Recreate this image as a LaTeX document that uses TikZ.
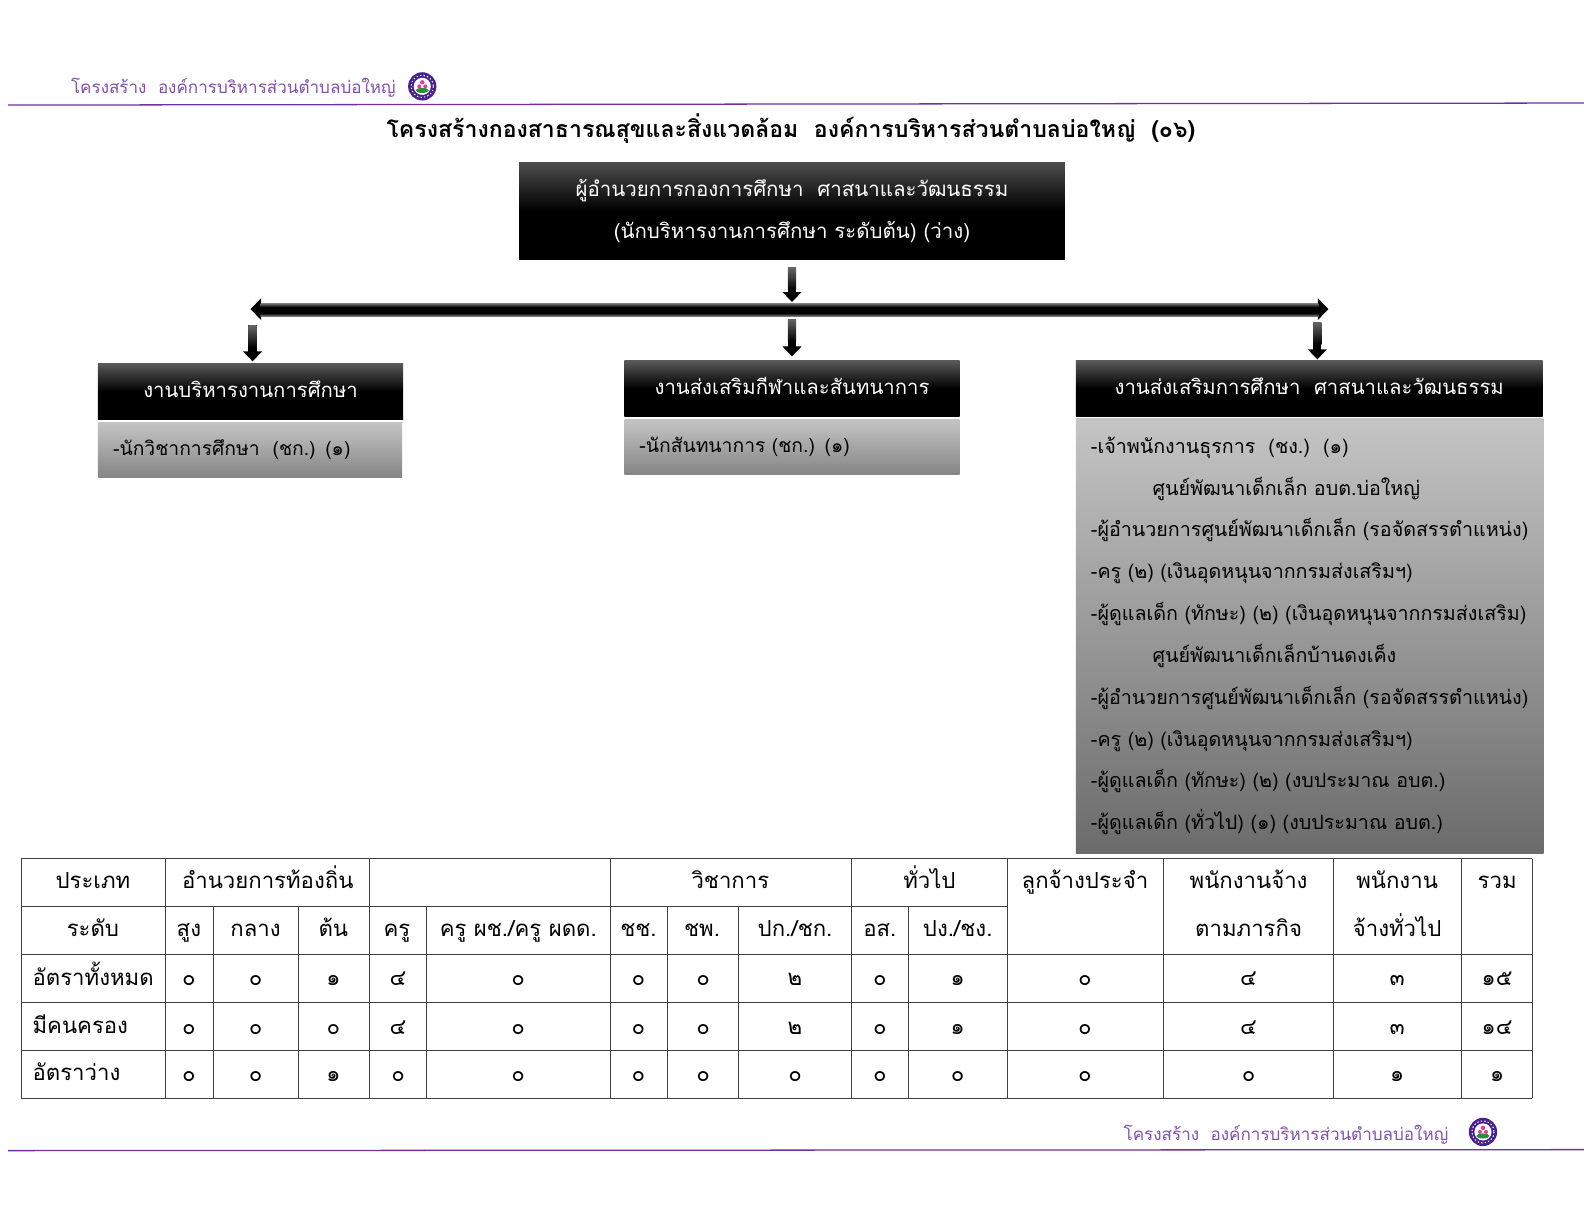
\documentclass[tikz,border=0pt]{standalone}
\usepackage{xcolor}
\usepackage{fontspec}
\usepackage{tikz}
\usetikzlibrary{arrows.meta}
\setmainfont[Script=Thai]{Loma}
\definecolor{ruleColor}{HTML}{7030A0}
\definecolor{headerColor}{HTML}{8050B0}
\definecolor{gridColor}{HTML}{404040}
\definecolor{sealColor}{HTML}{4A2090}
\definecolor{petalColor}{HTML}{E0409A}
\definecolor{leafColor}{HTML}{2E8B3A}

\begin{document}
\begin{tikzpicture}[x=0.025cm,y=-0.025cm,
bossbox/.style={shape=rectangle,top color=black!70,bottom color=black,middle color=black,text=white,
    font=\fontsize{14.4}{29}\selectfont,align=center,minimum width=13.5cm,minimum height=2.4cm,inner sep=0},
headbox/.style={shape=rectangle,top color=black!65,bottom color=black,middle color=black,text=white,
    font=\fontsize{14.3}{18}\selectfont,minimum height=1.375cm,text height=8.6pt,text depth=0pt,inner sep=0},
bodybox/.style={shape=rectangle,top color=black!23,bottom color=black!48,
    font=\fontsize{13.6}{20}\selectfont,align=left,inner ysep=0,inner xsep=0.375cm},
cell/.style={anchor=base,inner sep=0,font=\fontsize{15.6}{18}\selectfont},
headertext/.style={anchor=base,inner sep=0,text=headerColor,font=\fontsize{12}{15}\selectfont},
gridline/.style={draw=gridColor,line width=0.7pt},
ruleline/.style={draw=ruleColor,line width=0.9pt},
barline/.style={draw=black,line width=9.2pt,{Triangle[width=15pt,length=7.5pt]}-{Triangle[width=15pt,length=7.5pt]}},
dropline/.style={draw=black,line width=5.8pt,-{Triangle[width=13pt,length=7pt]}},
sealmark/.pic={
    \fill[sealColor] (0,0) circle (14);
    \draw[white,line width=0.7pt,dash pattern=on 1pt off 1.5pt] (0,0) circle (11);
    \fill[white] (0,0) circle (8.5);
    \fill[leafColor] (0,4) ellipse (6.5 and 2.5);
    \fill[petalColor] (0,-4) circle (2.2) (-3,0) circle (2) (3,0) circle (2);
}
]
\useasboundingbox (0,0) rectangle (1568,1211.6);
% running head and foot
\coordinate (topRuleL) at (8,104);
\coordinate (topRuleR) at (1568,102);
\coordinate (footRuleL) at (8,1139);
\coordinate (footRuleR) at (1568,1138);
\draw[ruleline] (topRuleL) -- (topRuleR);
\draw[ruleline] (footRuleL) -- (footRuleR);
\node[headertext] (topText) at (231,93) {โครงสร้าง~~องค์การบริหารส่วนตำบลบ่อใหญ่};
\node[headertext] (footText) at (1273,1129) {โครงสร้าง~~องค์การบริหารส่วนตำบลบ่อใหญ่};
\pic at (418,85.5) {sealmark};
\pic at (1468,1120.5) {sealmark};
\node[anchor=base,inner sep=0,font=\fontsize{16.25}{20}\selectfont\bfseries] (title) at (783,136)
    {โครงสร้างกองสาธารณสุขและสิ่งแวดล้อม~~องค์การบริหารส่วนตำบลบ่อใหญ่~~(๐๖)};
% chart
\node[bossbox] (boss) at (784,209) {ผู้อำนวยการกองการศึกษา~~ศาสนาและวัฒนธรรม\\(นักบริหารงานการศึกษา ระดับต้น) (ว่าง)};
\node[headbox,minimum width=7.55cm] (headL) at (248,387.5) {งานบริหารงานการศึกษา};
\node[headbox,minimum width=8.3cm] (headM) at (784,384.5) {งานส่งเสริมกีฬาและสันทนาการ};
\node[headbox,minimum width=11.55cm] (headR) at (1296,384.5) {งานส่งเสริมการศึกษา~~ศาสนาและวัฒนธรรม};
\node[bodybox,text width=6.775cm,minimum height=1.375cm] (bodyL) at (247.5,445.5) {-นักวิชาการศึกษา~~(ชก.) (๑)};
\node[bodybox,text width=7.55cm,minimum height=1.375cm] (bodyM) at (784,442.5) {-นักสันทนาการ (ชก.) (๑)};
\node[bodybox,bottom color=black!58,font=\fontsize{13.85}{29.45}\selectfont,text width=10.825cm,minimum height=10.775cm] (bodyR) at (1296.5,629.5) {%
-เจ้าพนักงานธุรการ~~(ชง.)~~(๑)\\
\hspace*{1.525cm}ศูนย์พัฒนาเด็กเล็ก อบต.บ่อใหญ่\\
\mbox{-ผู้อำนวยการศูนย์พัฒนาเด็กเล็ก (รอจัดสรรตำแหน่ง)}\\
-ครู (๒) (เงินอุดหนุนจากกรมส่งเสริมฯ)\\
\mbox{-ผู้ดูแลเด็ก (ทักษะ) (๒) (เงินอุดหนุนจากกรมส่งเสริม)}\\
\hspace*{1.525cm}ศูนย์พัฒนาเด็กเล็กบ้านดงเค็ง\\
\mbox{-ผู้อำนวยการศูนย์พัฒนาเด็กเล็ก (รอจัดสรรตำแหน่ง)}\\
-ครู (๒) (เงินอุดหนุนจากกรมส่งเสริมฯ)\\
-ผู้ดูแลเด็ก (ทักษะ) (๒) (งบประมาณ อบต.)\\
-ผู้ดูแลเด็ก (ทั่วไป) (๑) (งบประมาณ อบต.)\par\vspace*{1.4pt}};
\coordinate (barEndL) at (248,306);
\coordinate (barEndR) at (1315,306);
\coordinate (barL) at (250,306);
\coordinate (barM) at (784,306);
\coordinate (barR) at (1304,306);
\draw[barline] (barEndL) -- (barEndR);
\draw[dropline,shorten <=5.7pt,shorten >=5pt] (boss.south) -- (barM);
\draw[dropline,shorten <=7pt,shorten >=2.8pt] (barM) -- (headM.north);
\draw[dropline,shorten <=11.4pt,shorten >=1.4pt] (barL) -- (headL.north -| barL);
\draw[dropline,shorten <=9.2pt,shorten >=0.7pt] (barR) -- (headR.north -| barR);
\shade[top color=black!50,bottom color=black] (258,300) rectangle (1305,304);
\shade[top color=black,bottom color=black!50] (258,310) rectangle (1305,313);
\foreach \ax/\ay in {784/265,784/316,250/322,1304/319}
    \shade[top color=black!60,bottom color=black] (\ax-4.05,\ay) rectangle (\ax+4.05,\ay+22);
% table grid
\foreach \gy in {850,945,992,1040,1087}
    \draw[gridline] (21,\gy) -- (1517,\gy);
\draw[gridline] (21,897) -- (997,897);
\foreach \gx in {21,164,366,604,843,997,1152,1320,1447,1517}
    \draw[gridline] (\gx,850) -- (\gx,1087);
\foreach \gx in {211,295,422,661,731,899}
    \draw[gridline] (\gx,897) -- (\gx,1087);
% table text
\foreach \cx/\ctext in {92/ประเภท,265/อำนวยการท้องถิ่น,723/วิชาการ,920/ทั่วไป,1074/ลูกจ้างประจำ,1236/พนักงานจ้าง,1383/พนักงาน,1482/รวม}
    \node[cell] (top\cx) at (\cx,880) {\ctext};
\foreach \cx/\ctext in {92/ระดับ,187/สูง,253/กลาง,330/ต้น,393/ครู,513/{ครู ผช./ครู ผดด.},632/ชช.,695/ชพ.,787/{ปก./ชก.},871/อส.,948/{ปง./ชง.},1236/ตามภารกิจ,1383/จ้างทั่วไป}
    \node[cell] (sub\cx) at (\cx,927) {\ctext};
\node[cell,anchor=base west] (rowA) at (32,976) {อัตราทั้งหมด};
\node[cell,anchor=base west] (rowB) at (32,1023) {มีคนครอง};
\node[cell,anchor=base west] (rowC) at (32,1070) {อัตราว่าง};
\foreach \cx/\ctext in {187/๐,253/๐,330/๑,394/๔,513/๐,632/๐,696/๐,787/๒,871/๐,948/๑,1074/๐,1236/๔,1383/๓,1482/๑๕}
    \node[cell] (a\cx) at (\cx,976) {\ctext};
\foreach \cx/\ctext in {187/๐,253/๐,330/๐,394/๔,513/๐,632/๐,696/๐,787/๒,871/๐,948/๑,1074/๐,1236/๔,1383/๓,1482/๑๔}
    \node[cell] (b\cx) at (\cx,1024) {\ctext};
\foreach \cx/\ctext in {187/๐,253/๐,330/๑,394/๐,513/๐,632/๐,696/๐,787/๐,871/๐,948/๐,1074/๐,1236/๐,1383/๑,1482/๑}
    \node[cell] (c\cx) at (\cx,1071) {\ctext};
\end{tikzpicture}
\end{document}
